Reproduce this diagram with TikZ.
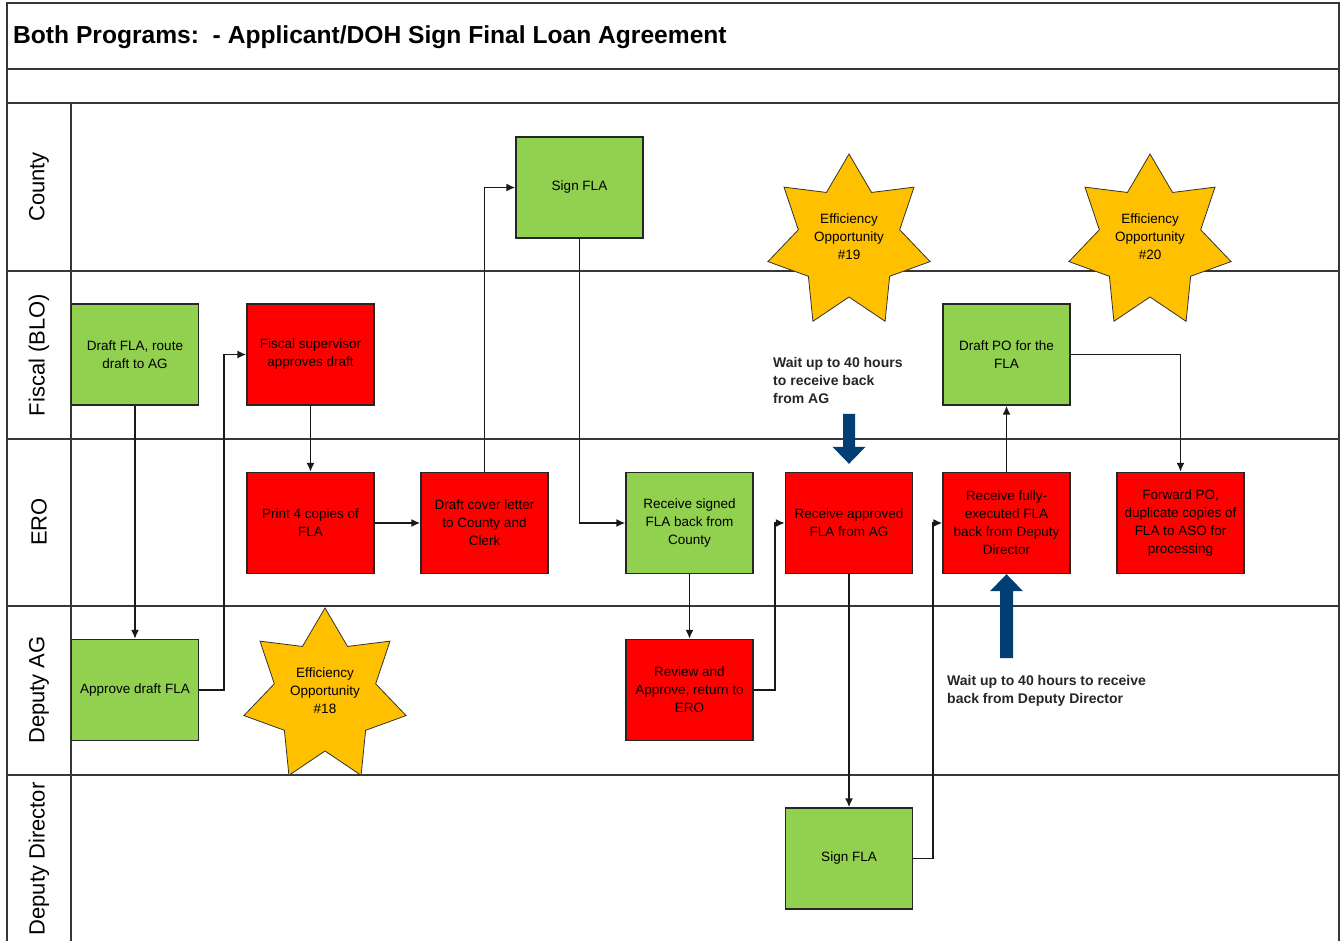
\documentclass[tikz,border=0pt]{standalone}
\usepackage{fontspec}
\setmainfont{Liberation Sans}
\usetikzlibrary{arrows.meta,calc}

\definecolor{boxgreen}{RGB}{146,208,80}
\definecolor{boxred}{RGB}{255,0,0}
\definecolor{stargold}{RGB}{255,192,0}
\definecolor{waitblue}{RGB}{0,62,116}
\definecolor{frameline}{RGB}{55,55,55}

% seven-pointed efficiency star centred at (#1,#2)
\newcommand{\effstarat}[2]{%
  \draw[effstar] plot[samples at={0,...,13}]
    ({#1+0.945*ifthenelse(mod(\x,2)==0,88,55)*cos(90+\x*180/7)},
     {#2-ifthenelse(mod(\x,2)==0,88,55)*sin(90+\x*180/7)}) -- cycle;}

\begin{document}
\begin{tikzpicture}[x=1pt,y=-1pt,
  lane/.style={draw=frameline,line width=1.5pt},
  lanelabel/.style={rotate=90,font=\fontsize{22}{26}\selectfont,inner sep=0pt},
  stepbox/.style={draw=black!85,line width=1.4pt,minimum width=127pt,minimum height=101pt,
    inner sep=1pt,align=center,font=\fontsize{13.5}{18}\selectfont},
  greenbox/.style={stepbox,fill=boxgreen},
  redbox/.style={stepbox,fill=boxred},
  flow/.style={draw=black!90,line width=1.6pt,-{Latex[length=9pt,width=8pt]}},
  effstar/.style={draw=black!80,line width=0.8pt,fill=stargold,line join=miter},
  startext/.style={align=center,inner sep=0pt,font=\fontsize{13.5}{18}\selectfont},
  waittext/.style={align=left,inner sep=0pt,font=\bfseries\fontsize{14}{18}\selectfont,text=black!85},
]
\useasboundingbox (0,0) rectangle (1340,941);
\clip (0,0) rectangle (1340,941);

% frame, header bands and swim lanes
\fill[white] (0,0) rectangle (1340,941);
\draw[lane] (7,3) rectangle (1339,960);
\foreach \yy in {69,103,271,439,606,775}
  \draw[lane] (7,\yy) -- (1339,\yy);
\draw[lane] (71,103) -- (71,960);

\node[anchor=base west,inner sep=0pt,font=\bfseries\fontsize{24.6}{28}\selectfont] (title) at (13,44)
  {Both Programs:\ \ - Applicant/DOH Sign Final Loan Agreement};

\node[lanelabel] (lcounty) at (39,187) {County};
\node[lanelabel] (lfiscal) at (39,355) {Fiscal (BLO)};
\node[lanelabel] (lero)    at (39,522) {ERO};
\node[lanelabel] (ldag)    at (39,690) {Deputy AG};
\node[lanelabel] (lddir)   at (39,859) {Deputy Director};

% efficiency stars
\effstarat{325}{696}
\node[startext] (eo18t) at (325,691) {Efficiency\\Opportunity\\\#18};
\effstarat{849}{242}
\node[startext] (eo19t) at (849,237) {Efficiency\\Opportunity\\\#19};
\effstarat{1150}{242}
\node[startext] (eo20t) at (1150,237) {Efficiency\\Opportunity\\\#20};

% process steps
\node[greenbox] (dfla)    at (135,354.5)   {Draft FLA, route\\draft to AG};
\node[redbox]   (fsup)    at (310.5,354.5) {Fiscal supervisor\\approves draft};
\node[redbox]   (print)   at (310.5,523)   {Print 4 copies of\\FLA};
\node[redbox]   (cover)   at (484.5,523)   {Draft cover letter\\to County and\\Clerk};
\node[greenbox] (signc)   at (579.5,187.5) {Sign FLA};
\node[greenbox] (recs)    at (689.5,523)   {Receive signed\\FLA back from\\County};
\node[redbox]   (review)  at (689.5,690)   {Review and\\Approve, return to\\ERO};
\node[greenbox] (approve) at (135,690)     {Approve draft FLA};
\node[redbox]   (recap)   at (849,523)     {Receive approved\\FLA from AG};
\node[greenbox] (signdd)  at (849,858.5)   {Sign FLA};
\node[redbox]   (recfe)   at (1006.5,523)  {Receive fully-\\executed FLA\\back from Deputy\\Director};
\node[greenbox] (dpo)     at (1006.5,354.5){Draft PO for the\\FLA};
\node[redbox]   (fwd)     at (1180.5,523)  {Forward PO,\\duplicate copies of\\FLA to ASO for\\processing};

% flow connectors
\draw[flow] (dfla.south) -- (approve.north);
\draw[flow] (approve.east) -- ++(25,0) |- (fsup.west);
\draw[flow] (fsup.south) -- (print.north);
\draw[flow] (print.east) -- (cover.west);
\draw[flow] (cover.north) |- (signc.west);
\draw[flow] (signc.south) |- (recs.west);
\draw[flow] (recs.south) -- (review.north);
\draw[flow] (review.east) -- ++(21,0) |- (recap.west);
\draw[flow] (recap.south) -- (signdd.north);
\draw[flow] (signdd.east) -- ++(20,0) |- (recfe.west);
\draw[flow] (recfe.north) -- (dpo.south);
\draw[flow] (dpo.east) -| (fwd.north);

% waiting-time markers
\coordinate (dtip) at ($(recap.north)+(0,-8)$);
\fill[waitblue] (dtip) -- ++(16.5,-17) -- ++(-10.5,0) -- ++(0,-33) -- ++(-12,0)
  -- ++(0,33) -- ++(-10.5,0) -- cycle;
\fill[waitblue] (recfe.south) -- ++(16.5,17) -- ++(-10,0) -- ++(0,67) -- ++(-13,0)
  -- ++(0,-67) -- ++(-10,0) -- cycle;

\node[waittext,anchor=west] (w19) at (773,380) {Wait up to 40 hours\\to receive back\\from AG};
\node[waittext,anchor=west] (wdd) at (947,691) {Wait up to 40 hours to receive\\back from Deputy Director};
\end{tikzpicture}
\end{document}
